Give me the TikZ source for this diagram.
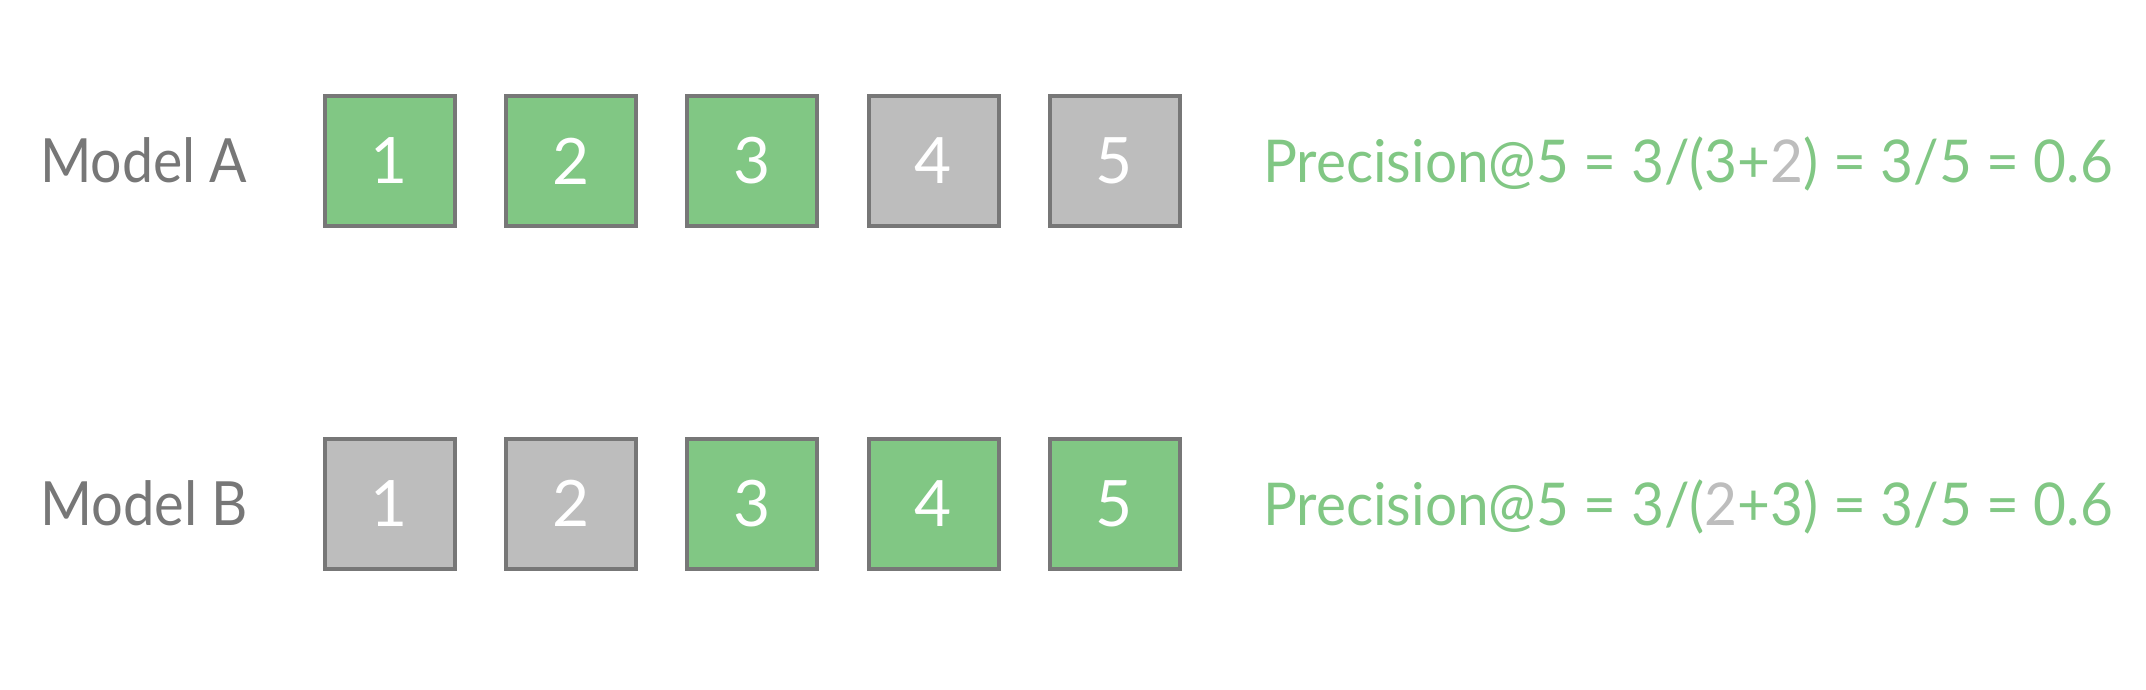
\documentclass[tikz,border=0pt]{standalone}
\usepackage{fontspec}
\setmainfont{Lato}
\definecolor{pgreen}{HTML}{81C784}
\definecolor{pgray}{HTML}{BDBDBD}
\definecolor{pborder}{HTML}{777777}
\newcommand{\eqfont}{\fontsize{59}{66}\selectfont}
\newcommand{\lblfont}{\fontsize{61}{68}\selectfont}
\newcommand{\digfont}{\fontsize{64}{70}\selectfont}
\newcommand{\fitw}[2]{\resizebox{#1}{\height}{#2}}
\begin{document}
\begin{tikzpicture}[x=1pt,y=-1pt,
  cell/.style={minimum size=130pt, draw=pborder, line width=4pt, inner sep=0pt, text=white, font=\digfont},
  hit/.style={cell, fill=pgreen},
  miss/.style={cell, fill=pgray},
  lbl/.style={text=pborder, font=\lblfont, anchor=base west, inner sep=0pt},
  eq/.style={text=pgreen, font=\eqfont, anchor=base west, inner sep=0pt}]
\useasboundingbox (0,0) rectangle (2146,690);
% Model A
\node[lbl] (la) at (40,182.5) {\fitw{207pt}{Model A}};
\node[hit]  (a1) at (389.5,161) {1};
\node[hit]  (a2) at (571,161) {2};
\node[hit]  (a3) at (752,161) {3};
\node[miss] (a4) at (933.5,161) {4};
\node[miss] (a5) at (1114.5,161) {5};
\node[eq] (pa) at (1263,182.5) {\fitw{850pt}{Precision@5 = 3/(3+{\color{pgray}2}) = 3/5 = 0.6}};
% Model B
\node[lbl] (lb) at (40,525) {\fitw{208pt}{Model B}};
\node[miss] (b1) at (389.5,503.5) {1};
\node[miss] (b2) at (571,503.5) {2};
\node[hit]  (b3) at (752,503.5) {3};
\node[hit]  (b4) at (933.5,503.5) {4};
\node[hit]  (b5) at (1114.5,503.5) {5};
\node[eq] (pb) at (1263,525) {\fitw{850pt}{Precision@5 = 3/({\color{pgray}2}+3) = 3/5 = 0.6}};
\end{tikzpicture}
\end{document}
